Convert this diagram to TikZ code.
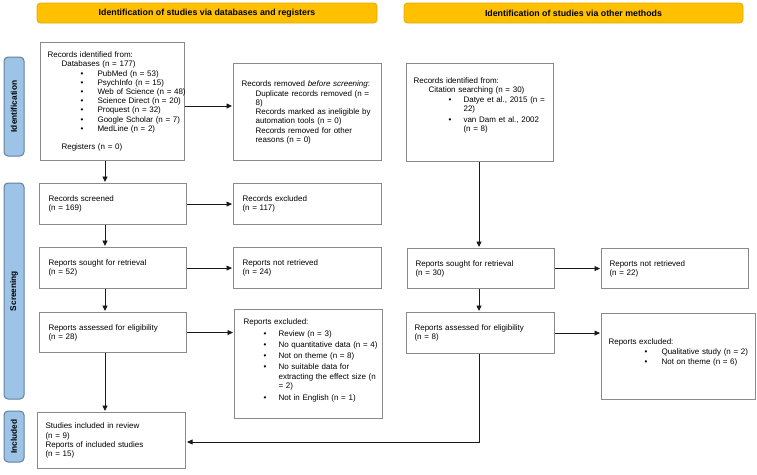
\documentclass[tikz,border=0pt]{standalone}
\usepackage{fontspec}
\setmainfont{Liberation Sans}
\usetikzlibrary{arrows.meta}
\definecolor{bannerfill}{HTML}{FFC000}
\definecolor{bannerdraw}{HTML}{E3AA00}
\definecolor{sidefill}{HTML}{9DC3E6}
\definecolor{sidedraw}{HTML}{62809F}
\definecolor{boxdraw}{HTML}{8A8A8A}
\definecolor{linecol}{HTML}{1A1A1A}
\newcommand\plin[2]{{\leftskip=#1\relax\noindent#2\par}}
\newcommand\pbul[4][0pt]{\vspace{#1}{\leftskip=#3\relax\noindent\llap{\makebox[\dimexpr#3-#2\relax][l]{\textbullet}}#4\par}}
\newcommand\tailgap[1]{\vspace{#1}\noindent\mbox{}\par}
\begin{document}
\begin{tikzpicture}[x=1pt,y=-1pt,
  box/.style={draw=boxdraw,line width=1.1pt,inner sep=0pt,anchor=north west,align=left,
    font=\fontsize{8}{9.2}\selectfont},
  banner/.style={draw=bannerdraw,fill=bannerfill,line width=0.8pt,rounded corners=3.5pt,
    minimum height=20pt,inner sep=0pt,font=\bfseries\fontsize{8.8}{10}\selectfont},
  side/.style={draw=sidedraw,fill=sidefill,line width=1pt,rounded corners=4pt,rotate=90,
    minimum height=20pt,inner sep=0pt,font=\bfseries\fontsize{8.3}{10}\selectfont,text=black},
  arr/.style={draw=linecol,line width=0.85pt,-{Triangle[length=5.5pt,width=5pt]},shorten >=1pt},
  conn/.style={draw=linecol,line width=0.85pt}]
\useasboundingbox (0,0) rectangle (757,474);
\fill[white] (0,0) rectangle (757,474);

% banners
\node[banner,minimum width=340pt] (ban1) at (207,13) {Identification of studies via databases and registers};
\node[banner,minimum width=339pt] (ban2) at (573.5,13) {Identification of studies via other methods};

% side labels
\node[side,minimum width=99pt] (sid1) at (14,106.5) {Identification};
\node[side,minimum width=216pt] (sid2) at (14,291) {Screening};
\node[side,minimum width=51pt] (sid3) at (14,436.5) {Included};

% left column
\node[box,minimum width=144pt,text width=144pt,minimum height=118pt] (A) at (40,42) {%
\plin{7pt}{Records identified from:}
\plin{21pt}{Databases (n = 177)}
\pbul{40pt}{57pt}{\mbox{PubMed (n = 53)}}
\pbul{40pt}{57pt}{\mbox{PsychInfo (n = 15)}}
\pbul{40pt}{57pt}{\mbox{Web of Science (n = 48)}}
\pbul{40pt}{57pt}{\mbox{Science Direct (n = 20)}}
\pbul{40pt}{57pt}{\mbox{Proquest (n = 32)}}
\pbul{40pt}{57pt}{\mbox{Google Scholar (n = 7)}}
\pbul{40pt}{57pt}{\mbox{MedLine (n = 2)}}
\vspace{9.2pt}
\plin{21pt}{Registers (n = 0)}};

\node[box,minimum width=148pt,text width=148pt,minimum height=97pt] (B) at (233,63) {%
\plin{8pt}{Records removed \textit{before screening}:}
\vspace{1pt}
\plin{22pt}{Duplicate records removed (n =\newline 8)}
\plin{22pt}{Records marked as ineligible by\newline automation tools (n = 0)}
\plin{22pt}{Records removed for other\newline reasons (n = 0)}};

\node[box,minimum width=147pt,text width=147pt,minimum height=41pt] (screenL) at (39,183) {%
\plin{9pt}{Records screened\newline (n = 169)}};
\node[box,minimum width=148pt,text width=148pt,minimum height=41pt] (exclL) at (233,183) {%
\plin{9pt}{Records excluded\newline (n = 117)}};

\node[box,minimum width=147pt,text width=147pt,minimum height=41pt] (soughtL) at (39,247) {%
\plin{9pt}{Reports sought for retrieval\newline (n = 52)}};
\node[box,minimum width=148pt,text width=148pt,minimum height=41pt] (notretL) at (233,247) {%
\plin{9pt}{Reports not retrieved\newline (n = 24)}};

\node[box,minimum width=147pt,text width=147pt,minimum height=40pt] (assessL) at (39,312) {%
\plin{9pt}{Reports assessed for eligibility\newline (n = 28)}};
\node[box,minimum width=148pt,text width=148pt,minimum height=109pt] (exclRepL) at (234,309) {%
\plin{9pt}{Reports excluded:}
\pbul[2.5pt]{29pt}{44pt}{Review (n = 3)}
\pbul[2pt]{29pt}{44pt}{No quantitative data (n = 4)}
\pbul[2pt]{29pt}{44pt}{Not on theme (n = 8)}
\pbul[2pt]{29pt}{44pt}{No suitable data for\newline extracting the effect size (n\newline = 2)}
\pbul[2.5pt]{29pt}{44pt}{Not in English (n = 1)}
\tailgap{0pt}};

\node[box,minimum width=148pt,text width=148pt,minimum height=56pt] (studies) at (37,412) {%
\plin{8pt}{Studies included in review\newline (n = 9)\newline Reports of included studies\newline (n = 15)}};

% right column
\node[box,minimum width=147pt,text width=147pt,minimum height=98pt] (C) at (406,63) {%
\plin{7pt}{Records identified from:}
\plin{22pt}{Citation searching (n = 30)}
\pbul[1pt]{42pt}{57pt}{Datye et al., 2015 (n =\newline 22)}
\pbul[1pt]{42pt}{57pt}{van Dam et al., 2002\newline (n = 8)}
\tailgap{7pt}};

\node[box,minimum width=147pt,text width=147pt,minimum height=40pt] (soughtR) at (407,248) {%
\plin{8pt}{Reports sought for retrieval\newline (n = 30)}};
\node[box,minimum width=147pt,text width=147pt,minimum height=40pt] (notretR) at (601,248) {%
\plin{8pt}{Reports not retrieved\newline (n = 22)}};

\node[box,minimum width=148pt,text width=148pt,minimum height=41pt] (assessR) at (406,312) {%
\plin{8pt}{Reports assessed for eligibility\newline (n = 8)}};
\node[box,minimum width=154pt,text width=154pt,minimum height=86pt] (exclR) at (601,313) {%
\plin{7pt}{Reports excluded:}
\pbul[0.8pt]{43pt}{60pt}{Qualitative study (n = 2)}
\pbul[0.8pt]{43pt}{60pt}{Not on theme (n = 6)}
\tailgap{0pt}};

% helper coordinates
\coordinate (xl) at (105,0);
\coordinate (xr) at (479,0);
\coordinate (yab) at (0,106);
\coordinate (ybot) at (0,442);

% connectors
\draw[arr] (A.south -| xl) -- (screenL.north -| xl);
\draw[arr] (A.east |- yab) -- (B.west |- yab);
\draw[arr] (screenL.east) -- (exclL.west);
\draw[arr] (screenL.south -| xl) -- (soughtL.north -| xl);
\draw[arr] (soughtL.east) -- (notretL.west);
\draw[arr] (soughtL.south -| xl) -- (assessL.north -| xl);
\draw[arr] (assessL.east) -- (assessL.east -| exclRepL.west);
\draw[arr] (assessL.south -| xl) -- (studies.north -| xl);

\draw[arr] (C.south -| xr) -- (soughtR.north -| xr);
\draw[arr] (soughtR.east) -- (soughtR.east -| notretR.west);
\draw[arr] (soughtR.south -| xr) -- (assessR.north -| xr);
\draw[arr] (assessR.east) -- (assessR.east -| exclR.west);
\draw[arr] (assessR.south -| xr) |- (ybot -| studies.east);
\end{tikzpicture}
\end{document}
